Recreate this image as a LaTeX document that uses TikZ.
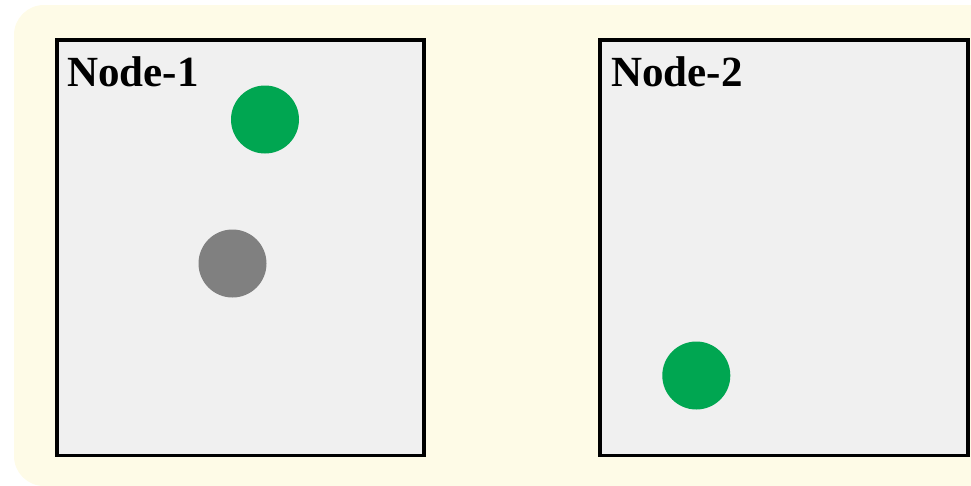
\documentclass[tikz,border=0pt]{standalone}
\usepackage{fontspec}
\setmainfont{Liberation Serif}
\definecolor{panelbg}{RGB}{254,251,231}
\definecolor{boxfill}{RGB}{240,240,240}
\definecolor{dotgreen}{RGB}{0,166,81}
\definecolor{dotgray}{RGB}{128,128,128}
\begin{document}
\begin{tikzpicture}[x=1pt,y=-1pt,
  hostbox/.style={draw=black,line width=3.6pt,fill=boxfill},
  hostlabel/.style={anchor=base west,inner sep=0pt,font=\fontsize{43}{48}\selectfont\bfseries},
  dot/.style={circle,inner sep=0pt,minimum size=68pt},
  greendot/.style={dot,fill=dotgreen},
  graydot/.style={dot,fill=dotgray}]
  \useasboundingbox (0,0) rectangle (971,485);
  \clip (0,0) rectangle (971,485);
  % cream panel behind the hosts
  \fill[panelbg,rounded corners=30pt] (14,5) rectangle (1000,486);
  % hosts
  \draw[hostbox] (57,40) rectangle (424,455.5);
  \draw[hostbox] (600,40) rectangle (968,455.5);
  \node[hostlabel] (label1) at (67,86) {Node-1};
  \node[hostlabel] (label2) at (611,86) {Node-2};
  % pods
  \node[greendot] (podA) at (265,119.5) {};
  \node[graydot] (podB) at (232.5,263.5) {};
  \node[greendot] (podC) at (696.3,375.5) {};
\end{tikzpicture}
\end{document}
